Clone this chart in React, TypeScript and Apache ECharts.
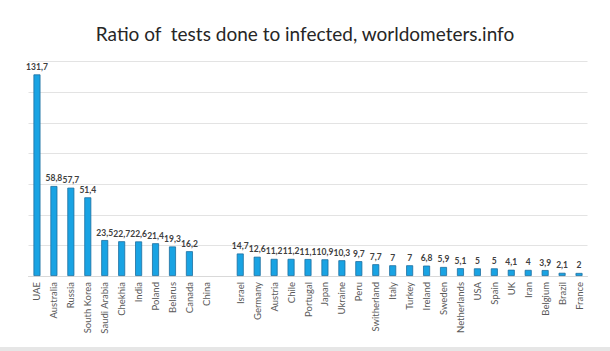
import React, { useEffect, useRef } from "react";
import * as echarts from "echarts";

const categories = [
  "UAE", "Australia", "Russia", "South Korea", "Saudi Arabia", "Chekhia", "India", "Poland", "Belarus", "Canada", "China", "",
  "Israel", "Germany", "Austria", "Chile", "Portugal", "Japan", "Ukraine", "Peru", "Switherland", "Italy", "Turkey", "Ireland",
  "Sweden", "Netherlands", "USA", "Spain", "UK", "Iran", "Belgium", "Brazil", "France",
];

const ratios: (number | null)[] = [
  131.7, 58.8, 57.7, 51.4, 23.5, 22.7, 22.6, 21.4, 19.3, 16.2, null, null,
  14.7, 12.6, 11.2, 11.2, 11.1, 10.9, 10.3, 9.7, 7.7, 7, 7, 6.8,
  5.9, 5.1, 5, 5, 4.1, 4, 3.9, 2.1, 2,
];

const titleText = "Ratio of  tests done to infected, worldometers.info";

export default function App() {
  const ref = useRef<HTMLDivElement>(null);
  useEffect(() => {
    if (!ref.current) return;
    const chart = echarts.init(ref.current, null, { renderer: "svg" });
    chart.setOption({
      animation: false,
      backgroundColor: "#ffffff",
      title: {
        text: titleText,
        left: "center",
        top: 19,
        textStyle: {
          fontFamily: "Lato",
          fontSize: 19,
          fontWeight: "normal",
          color: "#262626",
        },
      },
      graphic: [
        {
          type: "rect",
          shape: { x: 0, y: 347, width: 610, height: 4 },
          style: { fill: "#e6e6e6" },
        },
      ],
      grid: { left: 28.5, right: 22.5, top: 61.7, bottom: 75, containLabel: false },
      xAxis: {
        type: "category",
        data: categories,
        axisLine: { show: true, lineStyle: { color: "#d9d9d9", width: 1 } },
        axisTick: { show: false },
        axisLabel: {
          rotate: 90,
          interval: 0,
          margin: 6,
          fontFamily: "Lato",
          fontSize: 9.5,
          color: "#595959",
        },
      },
      yAxis: {
        type: "value",
        min: 0,
        max: 140,
        interval: 20,
        axisLabel: { show: false },
        axisLine: { show: false },
        axisTick: { show: false },
        splitLine: { show: true, lineStyle: { color: "#e3e3e3", width: 1 } },
      },
      series: [
        {
          type: "bar",
          data: ratios,
          barWidth: 7,
          itemStyle: { color: "#19a3e3", borderColor: "#1d6fa0", borderWidth: 0.8 },
          label: {
            show: true,
            position: "top",
            distance: 3,
            fontFamily: "Lato",
            fontSize: 8.5,
            fontWeight: "bold",
            color: "#404040",
            formatter: (p: any) =>
              p.value == null ? "" : String(p.value).replace(".", ","),
          },
        },
      ],
    });
    return () => chart.dispose();
  }, []);
  return (
    <div
      ref={ref}
      style={{ position: "fixed", left: 0, top: 0, width: 610, height: 351 }}
    />
  );
}
